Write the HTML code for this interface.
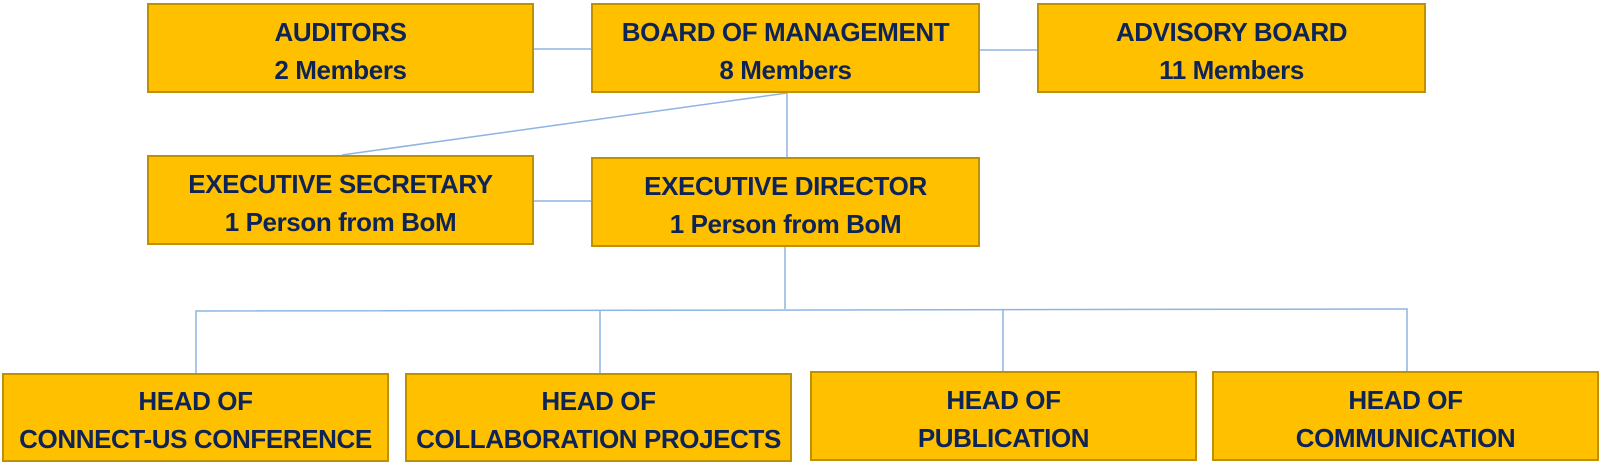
<!DOCTYPE html>
<html><head><style>
body{margin:0;width:1600px;height:474px;background:#fff;position:relative;overflow:hidden;font-family:"Liberation Sans",sans-serif;}
.b{position:absolute;box-sizing:border-box;background:#FFC000;border:2px solid #BF9000;color:#0E2456;font-weight:bold;font-size:26px;line-height:38px;text-align:center;display:flex;flex-direction:column;justify-content:center;padding-top:5px;letter-spacing:-0.4px}
svg{position:absolute;left:0;top:0}
</style></head><body>
<svg width="1600" height="474">
<g stroke="#8DB4E2" stroke-width="1.5" fill="none">
<line x1="534" y1="49" x2="591" y2="49"/>
<line x1="980" y1="50" x2="1037" y2="50"/>
<line x1="787" y1="93" x2="342" y2="155"/>
<line x1="787" y1="93" x2="787" y2="157"/>
<line x1="534" y1="201" x2="591" y2="201"/>
<line x1="785" y1="247" x2="785" y2="309"/>
<polyline points="196,373 196,311 1407,309 1407,371"/>
<line x1="600" y1="310" x2="600" y2="373"/>
<line x1="1003" y1="309" x2="1003" y2="371"/>
</g>
</svg>
<div class="b" style="left:147px;top:3px;width:387px;height:90px">AUDITORS<br>2 Members</div>
<div class="b" style="left:591px;top:3px;width:389px;height:90px">BOARD OF MANAGEMENT<br>8 Members</div>
<div class="b" style="left:1037px;top:3px;width:389px;height:90px">ADVISORY BOARD<br>11 Members</div>
<div class="b" style="left:147px;top:155px;width:387px;height:90px">EXECUTIVE SECRETARY<br>1 Person from BoM</div>
<div class="b" style="left:591px;top:157px;width:389px;height:90px">EXECUTIVE DIRECTOR<br>1 Person from BoM</div>
<div class="b" style="left:2px;top:373px;width:387px;height:89px">HEAD OF<br>CONNECT-US CONFERENCE</div>
<div class="b" style="left:405px;top:373px;width:387px;height:89px">HEAD OF<br>COLLABORATION PROJECTS</div>
<div class="b" style="left:810px;top:371px;width:387px;height:90px">HEAD OF<br>PUBLICATION</div>
<div class="b" style="left:1212px;top:371px;width:387px;height:90px">HEAD OF<br>COMMUNICATION</div>
</body></html>
